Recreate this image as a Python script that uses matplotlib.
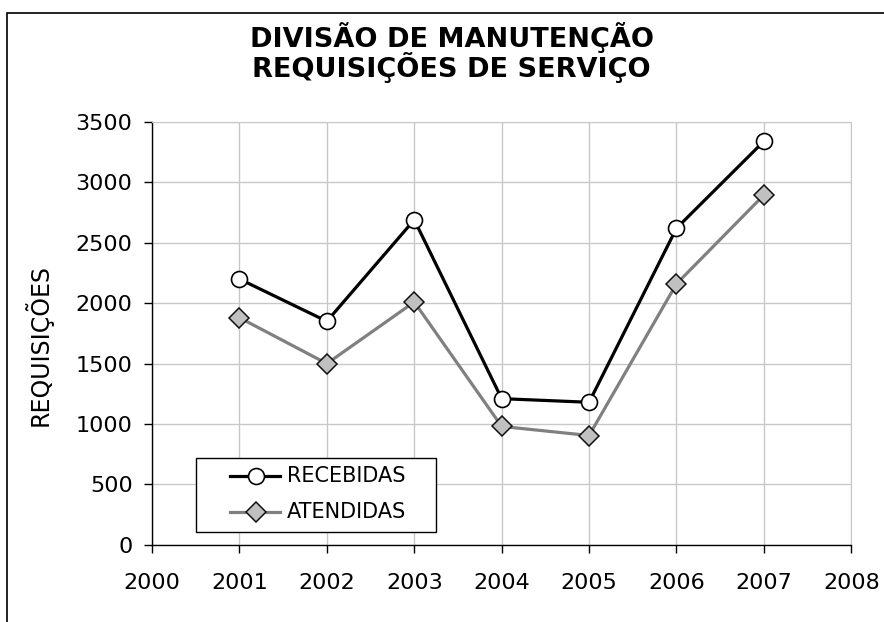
import matplotlib.pyplot as plt
from matplotlib.patches import Rectangle

anos = [2001, 2002, 2003, 2004, 2005, 2006, 2007]
recebidas = [2200, 1850, 2690, 1210, 1180, 2620, 3340]
atendidas = [1880, 1500, 2010, 980, 905, 2160, 2895]
nomes = ['RECEBIDAS', 'ATENDIDAS']

plt.rcParams['font.family'] = 'DejaVu Sans'

fig = plt.figure(figsize=(8.84, 6.22), dpi=100)
ax = fig.add_axes([0.172, 0.124, 0.791, 0.680])

# moldura da figura
fig.patches.append(Rectangle((0.008, -0.1), 1.1, 1.079, transform=fig.transFigure,
                             fill=False, edgecolor='black', linewidth=1.2))

estilo_rec = dict(color='black', linewidth=2.3, marker='o', markersize=11.5,
                  markerfacecolor='white', markeredgecolor='black', markeredgewidth=1.2)
estilo_ate = dict(color='#808080', linewidth=2.3, marker='D', markersize=10,
                  markerfacecolor='#c0c0c0', markeredgecolor='#111111', markeredgewidth=1.1)

ax.plot(anos, recebidas, zorder=4, **estilo_rec)
ax.plot(anos, atendidas, zorder=3, **estilo_ate)

ax.set_xlim(2000, 2008)
ax.set_ylim(0, 3500)
ax.set_xticks(range(2000, 2009))
ax.set_yticks(range(0, 3501, 500))
ax.grid(True, color='#c8c8c8', linewidth=1.0)
ax.set_axisbelow(True)

for s in ['top', 'right']:
    ax.spines[s].set_color('#c8c8c8')
for s in ['left', 'bottom']:
    ax.spines[s].set_color('black')
    ax.spines[s].set_linewidth(1.0)

ax.tick_params(direction='out', length=6, width=1, labelsize=16)
ax.tick_params(axis='x', pad=14)
ax.tick_params(axis='y', pad=8)
ax.set_ylabel('REQUISIÇÕES', fontsize=17, va='center')
ax.yaxis.set_label_coords(-0.163, 0.473)

fig.text(0.511, 0.9244, 'DIVISÃO DE MANUTENÇÃO', ha='center', va='baseline',
         fontsize=19.5, fontweight='bold')
fig.text(0.511, 0.876, 'REQUISIÇÕES DE SERVIÇO', ha='center', va='baseline',
         fontsize=19.5, fontweight='bold')

# legenda desenhada à mão (caixa + amostras)
ax.add_patch(Rectangle((0.063, 0.031), 0.343, 0.175, transform=ax.transAxes,
                       facecolor='white', edgecolor='black', linewidth=1.0, zorder=6))
for nome, estilo, yy in [(nomes[0], estilo_rec, 0.163), (nomes[1], estilo_ate, 0.078)]:
    ax.plot([0.1116, 0.183], [yy, yy], transform=ax.transAxes, zorder=7,
            markevery=[], **estilo)
    ax.plot([0.148], [yy], transform=ax.transAxes, zorder=8, linestyle='none',
            **{k: v for k, v in estilo.items() if k not in ('linewidth', 'color')})
    ax.text(0.193, yy, nome, transform=ax.transAxes, ha='left', va='center',
            fontsize=15, zorder=8)

fig.savefig('out.png', dpi=100)
